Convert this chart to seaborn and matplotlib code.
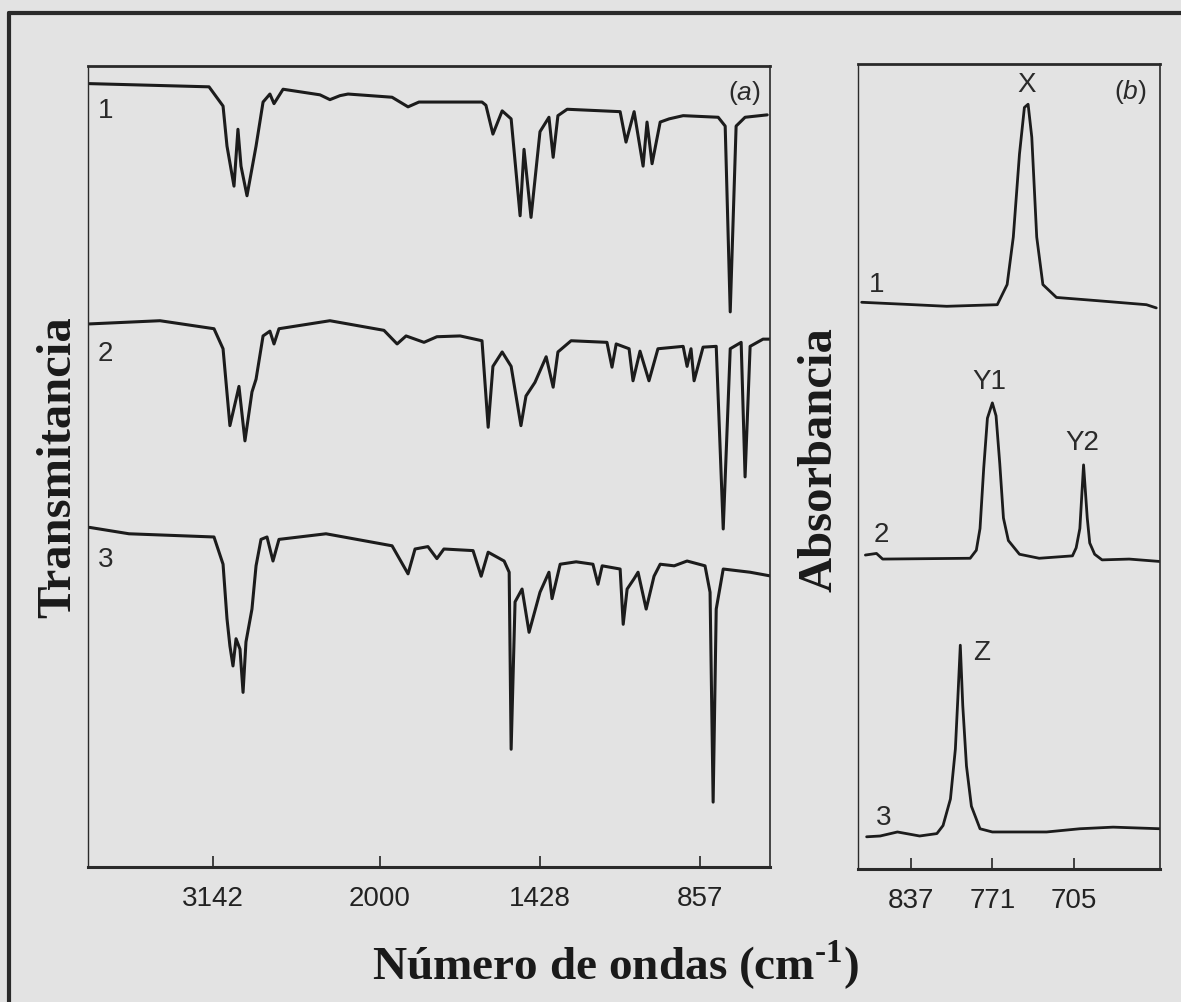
import numpy as np
import pandas as pd
import matplotlib
matplotlib.use("Agg")
import matplotlib.pyplot as plt
import seaborn as sns
from matplotlib.lines import Line2D
from matplotlib.ticker import NullLocator

# ---------------- data: panel (a) IR transmission spectra ----------------
wn1 = [3990, 3171, 3075, 3048, 3000, 2973, 2952, 2911, 2849, 2801, 2754, 2726,
       2664, 2411, 2343, 2274, 2219, 1957, 1900, 1861, 1636, 1622, 1597, 1564,
       1532, 1500, 1486, 1461, 1429, 1397, 1382, 1365, 1332, 1143, 1122, 1093,
       1061, 1047, 1029, 1000, 968, 918, 793, 768, 750, 729, 697, 618]
t1 = [97.8, 97.4, 95.0, 90.0, 85.0, 92.1, 87.5, 83.8, 90.0, 95.5, 96.5, 95.3,
      97.1, 96.4, 95.8, 96.3, 96.5, 96.1, 94.9, 95.5, 95.5, 95.1, 91.5, 94.4,
      93.4, 81.3, 89.6, 81.1, 91.8, 93.6, 88.6, 93.8, 94.6, 94.3, 90.5, 94.3,
      87.5, 93.0, 87.8, 93.0, 93.4, 93.8, 93.6, 92.5, 69.3, 92.5, 93.6, 93.9]

wn2 = [3990, 3507, 3137, 3075, 3028, 2986, 2966, 2925, 2877, 2849, 2801, 2754,
       2726, 2692, 2343, 1986, 1939, 1907, 1843, 1797, 1714, 1636, 1614, 1597,
       1564, 1532, 1497, 1479, 1447, 1407, 1382, 1365, 1318, 1190, 1172, 1157,
       1111, 1097, 1072, 1040, 1008, 918, 904, 890, 879, 847, 800, 775, 750,
       711, 697, 679, 633, 608]
t2 = [67.8, 68.2, 67.2, 64.7, 55.1, 58.4, 60.0, 53.2, 59.3, 60.9, 66.3, 66.9,
      65.3, 67.2, 68.2, 67.0, 65.3, 66.3, 65.5, 66.2, 66.3, 65.7, 54.9, 62.5,
      64.3, 62.5, 55.1, 58.8, 60.5, 63.7, 59.9, 64.3, 65.7, 65.5, 62.4, 65.3,
      64.7, 60.7, 64.4, 60.7, 64.7, 65.0, 62.5, 64.7, 60.7, 64.9, 65.0, 42.2,
      64.7, 65.5, 48.7, 65.0, 65.9, 65.9]

wn3 = [3990, 3719, 3137, 3075, 3048, 3028, 3007, 2986, 2959, 2938, 2918, 2877,
       2849, 2815, 2774, 2733, 2692, 2370, 1957, 1900, 1875, 1829, 1797, 1772,
       1668, 1639, 1614, 1557, 1539, 1532, 1518, 1493, 1468, 1429, 1397, 1386,
       1357, 1300, 1240, 1222, 1207, 1143, 1132, 1118, 1093, 1079, 1050, 1022,
       1000, 950, 904, 840, 822, 811, 800, 775, 679, 601]
t3 = [42.4, 41.6, 41.2, 37.8, 31.0, 27.6, 25.1, 28.5, 27.2, 21.8, 28.1, 32.2,
      37.6, 40.9, 41.2, 38.2, 40.9, 41.6, 40.1, 36.6, 39.7, 40.0, 38.5, 39.7,
      39.5, 36.3, 39.3, 38.2, 36.8, 14.7, 33.1, 34.7, 29.3, 34.3, 36.8, 33.5,
      37.8, 38.1, 37.8, 35.3, 37.6, 37.2, 30.3, 34.7, 36.0, 36.8, 32.2, 36.3,
      37.8, 37.6, 38.2, 37.6, 34.3, 8.1, 32.2, 37.2, 36.8, 36.3]

ticks_a = [3142, 2000, 1428, 857]

# ---------------- data: panel (b) absorbance spectra ----------------
wnb1 = [877, 835, 808, 767, 759, 754, 749, 745, 742, 739, 735, 730, 719, 686, 646, 638]
ab1 = [70.4, 70.1, 69.9, 70.1, 72.6, 78.5, 88.8, 94.6, 95.0, 90.9, 78.5, 72.6, 71.0, 70.6, 70.1, 69.7]

wnb2 = [874, 865, 860, 789, 784, 781, 778, 775, 771, 768, 765, 762, 758, 749,
        733, 706, 703, 700, 697, 694, 692, 688, 682, 660, 635]
ab2 = [39.0, 39.2, 38.5, 38.6, 39.6, 42.3, 49.8, 56.0, 57.9, 56.3, 50.4, 43.6,
       40.8, 39.1, 38.6, 38.9, 39.9, 42.3, 50.2, 43.6, 40.5, 39.1, 38.4, 38.5, 38.2]

wnb3 = [873, 862, 848, 830, 816, 811, 805, 801, 799, 797, 795, 792, 788, 781,
        771, 727, 700, 673, 635]
ab3 = [4.0, 4.1, 4.6, 4.1, 4.4, 5.4, 8.7, 14.9, 21.2, 27.8, 20.3, 12.8, 7.8,
       5.0, 4.6, 4.6, 5.0, 5.2, 5.0]

ticks_b = [837, 771, 705]
trace_names = ["1", "2", "3"]
peak_names = ["X", "Y1", "Y2", "Z"]

# ---------------- style ----------------
BG = "#e3e3e3"
INK = "#1c1c1c"
sns.set_theme(style="white")
plt.rcParams["font.family"] = ["Liberation Sans", "DejaVu Sans"]
plt.rcParams["mathtext.fontset"] = "custom"
plt.rcParams["mathtext.bf"] = "Liberation Serif:bold"
plt.rcParams["mathtext.it"] = "Liberation Sans:italic"
plt.rcParams["mathtext.rm"] = "Liberation Serif:bold"

df_a = pd.concat([
    pd.DataFrame({"wn": w, "T": t, "trace": n})
    for w, t, n in zip([wn1, wn2, wn3], [t1, t2, t3], trace_names)
])
df_b = pd.concat([
    pd.DataFrame({"wn": w, "A": a, "trace": n})
    for w, a, n in zip([wnb1, wnb2, wnb3], [ab1, ab2, ab3], trace_names)
])

fig = plt.figure(figsize=(11.81, 10.03), dpi=100, facecolor=BG)
axa = fig.add_axes([0.0745, 0.1346, 0.5775, 0.7986], facecolor=BG)
axb = fig.add_axes([0.7265, 0.1326, 0.2557, 0.8026], facecolor=BG)

# grating-change wavenumber scale (compressed above 2000 cm-1), monotonic increasing
def fwd(w):
    w = np.asarray(w, dtype=float)
    return np.where(w >= 2000, (w - 2000) / 6.85, (w - 2000) / 3.57)

def inv(p):
    p = np.asarray(p, dtype=float)
    return np.where(p >= 0, 2000 + p * 6.85, 2000 + p * 3.57)

axa.set_xscale("function", functions=(fwd, inv))

sns.lineplot(data=df_a, x="wn", y="T", units="trace", estimator=None, sort=False,
             color=INK, linewidth=2.2, ax=axa, legend=False)
sns.lineplot(data=df_b, x="wn", y="A", units="trace", estimator=None, sort=False,
             color=INK, linewidth=2.0, ax=axb, legend=False)

axa.set_xlim(4000, 608)
axa.set_ylim(0, 100)
axb.set_xlim(880, 635)
axb.set_ylim(0, 100)

for ax, ticks in ((axa, ticks_a), (axb, ticks_b)):
    ax.set_xticks(ticks)
    ax.set_xticklabels([str(t) for t in ticks])
    ax.xaxis.set_minor_locator(NullLocator())
    ax.set_yticks([])
    ax.set_xlabel("")
    ax.set_ylabel("")
    ax.tick_params(axis="x", direction="in", length=8, width=1.3, color="#333333",
                   pad=13, labelsize=20, labelcolor="#222222", bottom=True)
    ax.spines["left"].set_linewidth(1.0)
    ax.spines["right"].set_linewidth(1.2)
    ax.spines["top"].set_linewidth(2.0)
    ax.spines["bottom"].set_linewidth(2.2)
    for s in ax.spines.values():
        s.set_color("#2a2a2a")
        s.set_visible(True)

# trace numbers and panel tags
for name, y in zip(trace_names, [0.945, 0.642, 0.385]):
    axa.text(0.026, y, name, transform=axa.transAxes, ha="center", va="center",
             fontsize=20, color="#2a2a2a")
axa.text(0.963, 0.968, r"($\mathit{a}$)", transform=axa.transAxes, ha="center",
         va="center", fontsize=19, color="#2a2a2a")
axb.text(0.901, 0.966, r"($\mathit{b}$)", transform=axb.transAxes, ha="center",
         va="center", fontsize=19, color="#2a2a2a")
for name, (x, y) in zip(trace_names, [(0.063, 0.727), (0.076, 0.416), (0.086, 0.065)]):
    axb.text(x, y, name, transform=axb.transAxes, ha="center", va="center",
             fontsize=20, color="#2a2a2a")
for name, (x, y) in zip(peak_names, [(0.560, 0.975), (0.434, 0.606), (0.742, 0.530), (0.411, 0.270)]):
    axb.text(x, y, name, transform=axb.transAxes, ha="center", va="center",
             fontsize=20, color="#2a2a2a")

# axis titles
W, H = 1181, 1003
fig.text(58 / W, 1 - 467 / H, "Transmitancia", rotation=90, ha="center", va="center",
         fontsize=35, fontweight="bold", family="Liberation Serif", color="#1a1a1a")
fig.text(820 / W, 1 - 460 / H, "Absorbancia", rotation=90, ha="center", va="center",
         fontsize=35, fontweight="bold", family="Liberation Serif", color="#1a1a1a")
fig.text(616 / W, 1 - 980 / H, r"Número de ondas (cm$^{\text{-}\mathbf{1}}$)", ha="center",
         va="baseline", fontsize=34, fontweight="bold", family="Liberation Serif",
         color="#1a1a1a")

# scanned page frame (left and top edges)
fig.add_artist(Line2D([9 / W, 9 / W], [0, 1 - 14 / H], transform=fig.transFigure,
                      color="#2a2a2a", linewidth=3))
fig.add_artist(Line2D([9 / W, 1], [1 - 14 / H, 1 - 14 / H], transform=fig.transFigure,
                      color="#2a2a2a", linewidth=3))

fig.savefig("out.png", dpi=100, facecolor=BG)
